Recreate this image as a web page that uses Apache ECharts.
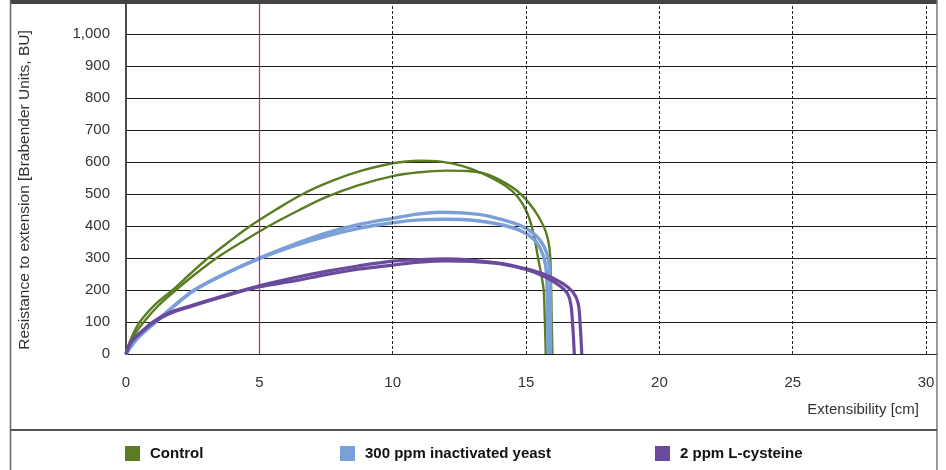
<!DOCTYPE html>
<html>
<head>
<meta charset="utf-8">
<script src="https://cdn.jsdelivr.net/npm/echarts@6/dist/echarts.min.js"></script>
<style>
  html, body { margin: 0; padding: 0; background: #fff; }
  #main { width: 946px; height: 470px; }
</style>
</head>
<body>
<div id="main"></div>
<script>
// legend names / colors
var seriesNames = ['Control', '300 ppm inactivated yeast', '2 ppm L-cysteine'];
var seriesColors = ['#5b7d22', '#7ba0d8', '#6a4a9c'];

// [extensibility cm, resistance BU], two replicate curves per sample
var controlA = [[0,0],[0.2,50],[0.52,100],[1.1,155],[1.75,200],[2.4,250],[3.08,300],[3.85,350],[4.66,400],[5.6,450],[6.63,500],[7.7,540],[8.8,572],[10,596],[11,604],[11.8,601],[12.6,588],[13.4,563],[14.2,527],[14.7,490],[15.05,440],[15.3,370],[15.45,300],[15.58,245],[15.66,200],[15.7,120],[15.74,0]];
var controlB = [[0,0],[0.2,45],[0.67,100],[1.2,150],[1.87,200],[2.6,250],[3.4,300],[4.35,350],[5.36,400],[6.5,450],[7.5,490],[8.7,527],[10,556],[11,568],[12,573],[12.8,572],[13.4,565],[13.9,549],[14.6,514],[15.1,473],[15.5,425],[15.75,380],[15.88,330],[15.93,250],[15.96,120],[15.99,0]];
var yeastA = [[0,0],[0.2,25],[0.5,55],[1.11,100],[1.8,150],[2.57,200],[3.7,250],[5,300],[6.3,343],[7.5,378],[8.7,404],[10,424],[11,438],[11.75,443],[12.6,441],[13.4,434],[14,422],[14.75,403],[15.35,372],[15.68,335],[15.84,294],[15.9,240],[15.92,0]];
var yeastB = [[0,0],[0.2,25],[0.5,55],[1.11,100],[1.8,150],[2.57,200],[3.7,250],[5,298],[6.3,338],[7.5,368],[8.7,392],[10,410],[11,419],[12,421],[13,418],[13.9,407],[14.75,387],[15.3,358],[15.56,325],[15.72,283],[15.78,230],[15.83,0]];
var cysteineA = [[0,0],[0.2,40],[0.65,75],[1,100],[1.6,128],[2.4,150],[3.5,178],[5,213],[6.3,238],[7.5,258],[8.7,275],[10,290],[11,295],[12,297],[13,293],[14,284],[15,266],[15.75,247],[16.37,221],[16.74,195],[16.95,160],[17.03,90],[17.09,0]];
var cysteineB = [[0,0],[0.2,37],[0.65,73],[1,97],[1.6,125],[2.4,148],[3.5,176],[5,210],[6.3,228],[7.5,248],[8.7,265],[10,278],[11,287],[12,291],[13,289],[14,282],[15,264],[15.75,240],[16.31,210],[16.56,188],[16.68,155],[16.75,90],[16.81,0]];

var markX = 5;              // magenta reference line
var dashedX = [10, 15, 20, 25, 30];

var font = '"Liberation Sans", Arial, Helvetica, sans-serif';

function curve(name, color, width, data) {
    return {
        name: name,
        type: 'line',
        data: data,
        showSymbol: false,
        smooth: 0.35,
        lineStyle: { color: color, width: width },
        itemStyle: { color: color }
    };
}

var series = [
    curve(seriesNames[0], seriesColors[0], 2.4, controlA),
    curve(seriesNames[0], seriesColors[0], 2.4, controlB),
    curve(seriesNames[1], seriesColors[1], 3.4, yeastA),
    curve(seriesNames[1], seriesColors[1], 3.4, yeastB),
    curve(seriesNames[2], seriesColors[2], 3.2, cysteineA),
    curve(seriesNames[2], seriesColors[2], 3.2, cysteineB)
];

// dashed vertical grid lines
series[0].markLine = {
    silent: true,
    symbol: ['none', 'none'],
    label: { show: false },
    animation: false,
    lineStyle: { color: '#222', type: [3, 2], width: 1 },
    data: dashedX.map(function (v) { return { xAxis: v }; })
};
// magenta line at 5 cm
series[1].markLine = {
    silent: true,
    symbol: ['none', 'none'],
    label: { show: false },
    animation: false,
    lineStyle: { color: '#d4157f', type: 'solid', width: 1.2, opacity: 1 },
    data: [{ xAxis: markX }]
};

function legendAt(i, left) {
    return {
        data: [seriesNames[i]],
        left: left,
        top: 441,
        icon: 'rect',
        itemWidth: 15,
        itemHeight: 15,
        selectedMode: false,
        textStyle: { fontFamily: font, fontSize: 15, fontWeight: 'bold', color: '#111', padding: [0, 0, 0, 5] }
    };
}

var myChart = echarts.init(document.getElementById('main'));
myChart.setOption({
    animation: false,
    textStyle: { fontFamily: font },
    grid: { left: 126, right: 9, top: 2, bottom: 116 },
    legend: [legendAt(0, 120), legendAt(1, 335), legendAt(2, 650)],
    xAxis: {
        type: 'value',
        min: 0,
        max: 30.41,
        interval: 5,
        name: 'Extensibility [cm]',
        nameLocation: 'end',
        nameGap: -18,
        nameTextStyle: { fontFamily: font, fontSize: 15, color: '#333', align: 'right', verticalAlign: 'top', padding: [48, 0, 0, 0] },
        axisLine: { show: true, lineStyle: { color: '#222', width: 1 } },
        axisTick: { show: false },
        splitLine: { show: false },
        axisLabel: {
            margin: 21, fontSize: 15, color: '#333', fontFamily: font,
            formatter: function (v) { return v % 5 === 0 ? String(v) : ''; }
        }
    },
    yAxis: {
        type: 'value',
        min: 0,
        max: 1100,
        interval: 100,
        name: 'Resistance to extension [Brabender Units, BU]',
        nameLocation: 'middle',
        nameRotate: 90,
        nameGap: 93,
        nameTextStyle: { fontFamily: font, fontSize: 15.5, color: '#333', padding: [0, 24, 0, 0] },
        axisLine: { show: true, lineStyle: { color: '#111', width: 1.5 } },
        axisTick: { show: false },
        splitLine: { show: true, lineStyle: { color: '#1a1a1a', width: 1.2 } },
        axisLabel: {
            margin: 16, fontSize: 15, color: '#333', fontFamily: font,
            formatter: function (v) { return v > 1000 ? '' : v.toLocaleString('en-US'); }
        }
    },
    graphic: [
        { type: 'rect', shape: { x: 10, y: 0, width: 927, height: 4 }, style: { fill: '#444' }, z: 100 },
        { type: 'line', shape: { x1: 10.5, y1: 0, x2: 10.5, y2: 470 }, style: { stroke: '#666', lineWidth: 1.5 }, z: 100 },
        { type: 'line', shape: { x1: 937, y1: 0, x2: 937, y2: 470 }, style: { stroke: '#777', lineWidth: 1.5 }, z: 100 },
        { type: 'line', shape: { x1: 10, y1: 430, x2: 937, y2: 430 }, style: { stroke: '#555', lineWidth: 2 }, z: 100 }
    ],
    series: series
});
</script>
</body>
</html>
